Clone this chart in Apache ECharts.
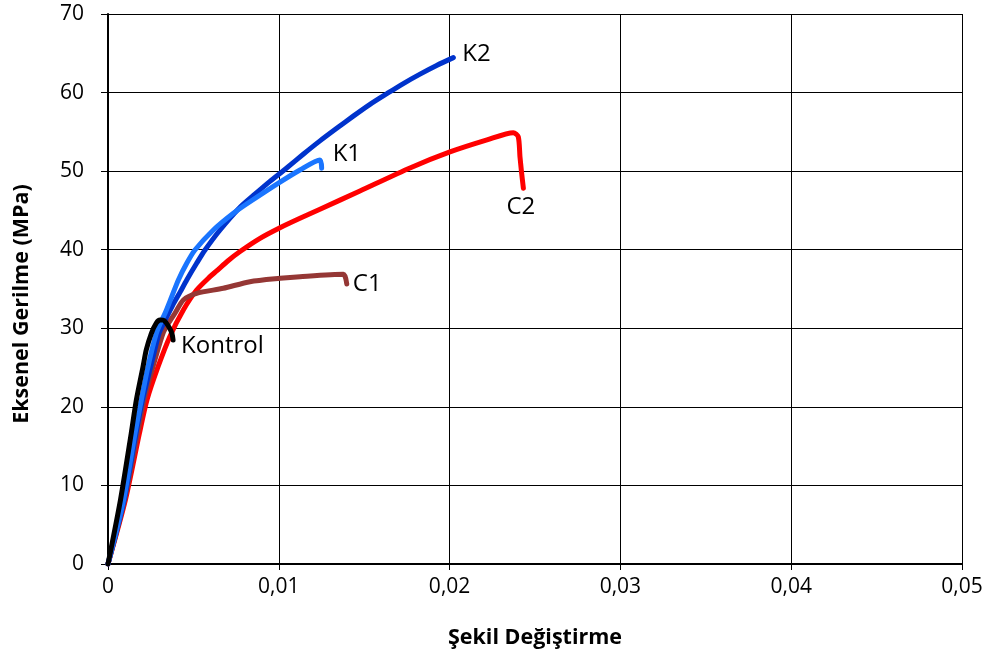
<!DOCTYPE html>
<html><head><meta charset="utf-8">
<script src="https://cdn.jsdelivr.net/npm/echarts@6/dist/echarts.min.js"></script>
<style>html,body{margin:0;padding:0;background:#fff}#c{width:988px;height:658px}</style>
</head><body><div id="c"></div>
<script>
var xTicks = [0, 0.01, 0.02, 0.03, 0.04, 0.05];
var yTicks = [0, 10, 20, 30, 40, 50, 60, 70];
var xTitle = 'Şekil Değiştirme';
var yTitle = 'Eksenel Gerilme (MPa)';

var kontrolX = [0, 0.00073, 0.00136, 0.00166, 0.00205, 0.00224, 0.00254, 0.00283, 0.00304, 0.00328, 0.00361, 0.00375, 0.00381];
var kontrolY = [0, 8.15, 16.63, 20.87, 25.11, 27.24, 29.36, 30.67, 31.05, 30.99, 30.0, 29.27, 28.51];

var k1X = [0, 0.00091, 0.00158, 0.00195, 0.00234, 0.00283, 0.00313, 0.00334, 0.00373, 0.00412, 0.00461, 0.00509, 0.00617, 0.00734, 0.00831, 0.01007, 0.01124, 0.01241, 0.01251];
var k1Y = [0, 8.15, 16.63, 20.87, 25.11, 29.36, 30.93, 31.91, 34.02, 36.15, 38.27, 39.96, 42.51, 44.64, 46.1, 48.6, 50.15, 51.42, 50.36];

var k2X = [0, 0.00094, 0.00164, 0.00202, 0.0025, 0.00299, 0.00334, 0.00378, 0.00422, 0.00461, 0.00519, 0.00568, 0.00656, 0.00773, 0.00851, 0.00948, 0.01046, 0.01143, 0.01241, 0.01339, 0.01436, 0.01534, 0.01632, 0.01729, 0.01827, 0.01924, 0.02022];
var k2Y = [0, 8.15, 16.63, 20.87, 25.11, 29.36, 31.0, 32.9, 34.6, 36.15, 38.27, 39.96, 42.51, 45.4, 46.9, 48.7, 50.4, 52.15, 53.85, 55.45, 57.0, 58.5, 59.85, 61.15, 62.35, 63.45, 64.45];

var c1X = [0, 0.00097, 0.00173, 0.00211, 0.00263, 0.00322, 0.00353, 0.00392, 0.00441, 0.00519, 0.00675, 0.00831, 0.01007, 0.01124, 0.01378, 0.01398];
var c1Y = [0, 8.15, 16.63, 20.87, 25.11, 29.36, 30.6, 31.91, 33.6, 34.45, 35.09, 35.93, 36.36, 36.57, 36.87, 35.64];

var c2X = [0, 0.00102, 0.00184, 0.00228, 0.00293, 0.00363, 0.00441, 0.00519, 0.00597, 0.00636, 0.00703, 0.00773, 0.0089, 0.01007, 0.01124, 0.01241, 0.01475, 0.01768, 0.02002, 0.02219, 0.02373, 0.02402, 0.02412, 0.02421, 0.02432];
var c2Y = [0, 8.15, 16.63, 20.87, 25.11, 29.0, 32.33, 34.87, 36.57, 37.3, 38.6, 39.77, 41.45, 42.8, 44.0, 45.15, 47.47, 50.4, 52.44, 53.97, 54.9, 54.38, 51.84, 49.9, 47.82];

function pairs(xs, ys) { return xs.map(function (x, i) { return [x, ys[i]]; }); }

var FONT = "'Open Sans', 'Noto Sans', sans-serif";

function mk(name, xs, ys, color, offset, z) {
  return {
    name: name, type: 'line', data: pairs(xs, ys), showSymbol: false, symbol: 'none',
    smooth: 0.25, z: z,
    lineStyle: { color: color, width: 5, cap: 'round', join: 'round' },
    endLabel: { show: true, formatter: name, color: '#000', fontFamily: FONT, fontSize: 24, offset: offset, distance: 5 }
  };
}

var chart = echarts.init(document.getElementById('c'));
chart.setOption({
  animation: false,
  backgroundColor: '#fff',
  grid: { left: 108, right: 26, top: 14, bottom: 94, containLabel: false, outerBoundsMode: 'none' },
  graphic: [{
    type: 'text', x: 22, y: 304, rotation: Math.PI / 2,
    style: { text: yTitle, fontFamily: FONT, fontSize: 21.5, fontWeight: 'bold', fill: '#000', align: 'center', verticalAlign: 'middle' }
  }],
  xAxis: {
    type: 'value', min: 0, max: 0.05, interval: 0.01,
    name: xTitle, nameLocation: 'middle', nameGap: 63,
    nameTextStyle: { fontFamily: FONT, fontSize: 21.5, fontWeight: 'bold', color: '#000' },
    axisLine: { show: true, lineStyle: { color: '#000', width: 2 } },
    axisTick: { show: true, inside: false, length: 6, lineStyle: { color: '#000', width: 1 } },
    axisLabel: { margin: 13, fontFamily: FONT, fontSize: 21, color: '#000',
      formatter: function (v) { return v === 0 ? '0' : v.toFixed(2).replace('.', ','); } },
    splitLine: { show: true, lineStyle: { color: '#000', width: 1 } }
  },
  yAxis: {
    type: 'value', min: 0, max: 70, interval: 10,
    axisLine: { show: true, lineStyle: { color: '#000', width: 2 } },
    axisTick: { show: true, inside: false, length: 7, lineStyle: { color: '#000', width: 1 } },
    axisLabel: { margin: 24, fontFamily: FONT, fontSize: 21, color: '#000' },
    splitLine: { show: true, lineStyle: { color: '#000', width: 1 } }
  },
  series: [
    mk('C2', c2X, c2Y, '#FF0000', [-22, 19], 1),
    mk('C1', c1X, c1Y, '#953735', [1, 0], 2),
    mk('K2', k2X, k2Y, '#0033CC', [4, -3], 3),
    mk('K1', k1X, k1Y, '#1A75FF', [6, -14], 4),
    mk('Kontrol', kontrolX, kontrolY, '#000000', [3, 6], 5)
  ]
});
</script></body></html>
